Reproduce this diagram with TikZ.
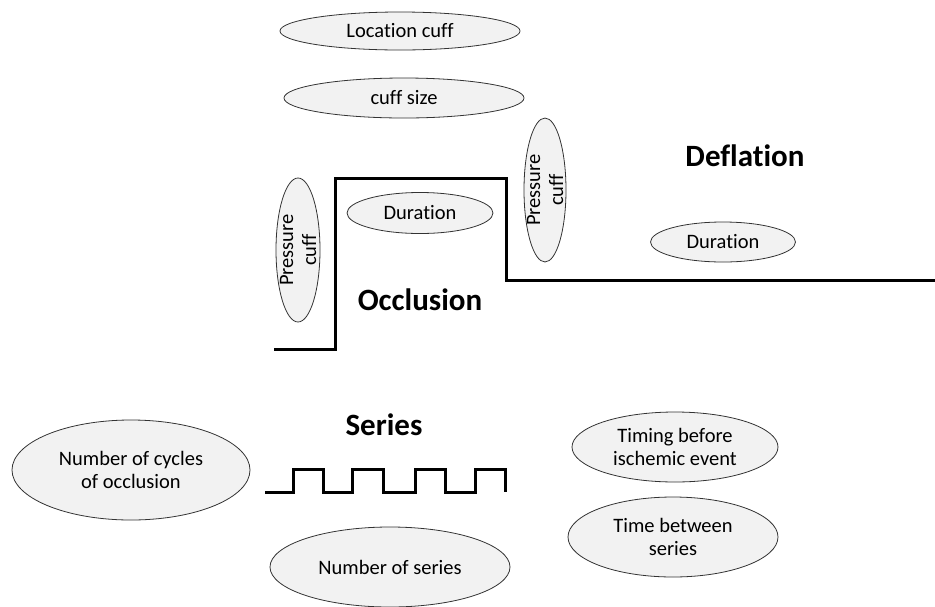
\documentclass[tikz,border=0pt]{standalone}
\usepackage{fontspec}
\setmainfont[Ligatures=NoCommon]{Carlito}
\usetikzlibrary{shapes.geometric}
\begin{document}
\begin{tikzpicture}[x=1pt,y=-1pt,
  oval/.style={ellipse,draw=black!80,line width=0.8pt,fill=gray!10,inner sep=0pt,
    font=\fontsize{20.5}{23}\selectfont,align=center},
  rtext/.style={rotate=90,font=\fontsize{20.5}{23}\selectfont,align=center,inner sep=0pt},
  head/.style={font=\bfseries\fontsize{31}{33}\selectfont,inner sep=0pt},
  wave/.style={line width=3pt,line join=miter}]
\useasboundingbox (0,0) rectangle (935,606);
\node[oval,minimum width=240pt,minimum height=38pt] (loc) at (400,31) {Location cuff};
\node[oval,minimum width=240pt,minimum height=40pt] (size) at (404,98) {cuff size};
\node[oval,minimum width=44pt,minimum height=144pt] (pl) at (298,250) {};
\node[rtext] (plt) at (pl.center) {Pressure\\cuff};
\node[oval,minimum width=42pt,minimum height=144pt] (pr) at (545,190) {};
\node[rtext] (prt) at (pr.center) {Pressure\\cuff};
\node[oval,minimum width=146pt,minimum height=41pt] (d1) at (420,213) {Duration};
\node[oval,minimum width=145pt,minimum height=40pt] (d2) at (723,242) {Duration};
\node[head] (occ) at (420,300) {Occlusion};
\node[head] (def) at (745,156) {Deflation};
\node[head] (ser) at (384,425) {Series};
\node[oval,minimum width=238pt,minimum height=100pt] (cyc) at (131,470) {Number of cycles\\of occlusion};
\node[oval,minimum width=240pt,minimum height=80pt] (nser) at (390,567) {Number of series};
\node[oval,minimum width=206pt,minimum height=70pt] (tim) at (675,447) {Timing before\\ischemic event};
\node[oval,minimum width=210pt,minimum height=80pt] (tbs) at (673,537) {Time between\\series};
\coordinate (o0) at (274,349);
\coordinate (o1) at (935,280);
\draw[wave] (o0) -- (335,349) -- (335,178) -- (506,178) -- (506,280) -- (o1);
\coordinate (s0) at (265,492);
\coordinate (s1) at (505,492);
\draw[wave] (s0) -- (293,492) -- (293,469) -- (323,469) -- (323,492) -- (352,492) -- (352,469)
  -- (383,469) -- (383,492) -- (415,492) -- (415,469) -- (445,469) -- (445,492) -- (475,492)
  -- (475,469) -- (505,469) -- (s1);
\end{tikzpicture}
\end{document}
